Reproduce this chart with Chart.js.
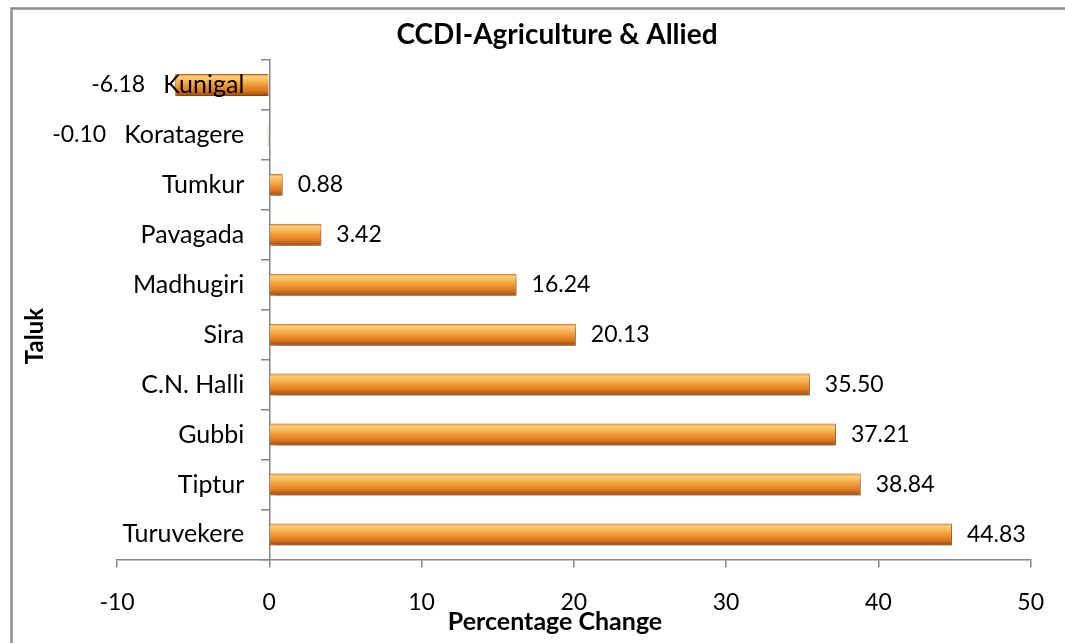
<!DOCTYPE html>
<html>
<head>
<meta charset="utf-8">
<title>CCDI-Agriculture & Allied</title>
<script src="https://cdn.jsdelivr.net/npm/chart.js@4.4.1/dist/chart.umd.min.js"></script>
<style>
  html, body { margin: 0; padding: 0; background: #fff; }
  canvas { display: block; }
</style>
</head>
<body>
<canvas id="chart" width="1065" height="643"></canvas>
<script>
const taluks = ["Kunigal", "Koratagere", "Tumkur", "Pavagada", "Madhugiri", "Sira", "C.N. Halli", "Gubbi", "Tiptur", "Turuvekere"];
const percentChange = [-6.18, -0.10, 0.88, 3.42, 16.24, 20.13, 35.50, 37.21, 38.84, 44.83];
const xTicks = [-10, 0, 10, 20, 30, 40, 50];

const chartTitle = "CCDI-Agriculture & Allied";
const xTitle = "Percentage Change";
const yTitle = "Taluk";

const FONT = "Lato, 'Open Sans', sans-serif";
const AXIS_GREY = "#868686";
const BAR_PCT = 0.44;
const Y_TICK_LEN = 8;
const Y_TICK_PAD = 17;
const CAT_FONT = "25px " + FONT;
const VALUE_FONT = "23px " + FONT;

// vertical gradient per bar, so each one gets its own highlight band
function barFill(ctx) {
    const chart = ctx.chart;
    const y = chart.scales.y;
    if (!chart.chartArea || !y || ctx.dataIndex === undefined) return "#ee9533";
    const mid = y.getPixelForValue(ctx.dataIndex);
    const step = Math.abs(y.getPixelForValue(1) - y.getPixelForValue(0));
    const half = (step * BAR_PCT) / 2;
    const g = chart.ctx.createLinearGradient(0, mid - half, 0, mid + half);
    g.addColorStop(0, "#e57f22");
    g.addColorStop(0.12, "#fccf7a");
    g.addColorStop(0.3, "#f9b956");
    g.addColorStop(0.5, "#f09a36");
    g.addColorStop(0.75, "#dc7a1f");
    g.addColorStop(0.9, "#b25d18");
    g.addColorStop(1, "#874713");
    return g;
}

const decorations = {
    id: "decorations",
    beforeDraw(chart) {
        const ctx = chart.ctx;
        ctx.save();
        ctx.strokeStyle = "#8f8f8f";
        ctx.lineWidth = 2.5;
        ctx.strokeRect(11.5, 8.5, chart.width + 50, chart.height + 50);
        ctx.restore();
    },
    beforeDatasetsDraw(chart) {
        const ctx = chart.ctx;
        ctx.save();
        ctx.shadowColor = "rgba(0,0,0,0.35)";
        ctx.shadowBlur = 6;
        ctx.shadowOffsetX = 2;
        ctx.shadowOffsetY = 4;
    },
    afterDatasetsDraw(chart) {
        const ctx = chart.ctx;
        ctx.restore();

        const meta = chart.getDatasetMeta(0);
        const zeroX = chart.scales.x.getPixelForValue(0);
        const labelRight = zeroX - Y_TICK_LEN - Y_TICK_PAD;
        ctx.save();
        ctx.fillStyle = "#000";
        ctx.textBaseline = "middle";

        // category labels sit beside the zero line, on top of the bars
        ctx.font = CAT_FONT;
        ctx.textAlign = "right";
        taluks.forEach((name, i) => {
            ctx.fillText(name, labelRight, chart.scales.y.getPixelForValue(i));
        });

        // value labels
        meta.data.forEach((bar, i) => {
            const v = percentChange[i];
            const text = v.toFixed(2);
            ctx.font = CAT_FONT;
            const w = ctx.measureText(taluks[i]).width;
            ctx.font = VALUE_FONT;
            if (v >= 0) {
                ctx.textAlign = "left";
                ctx.fillText(text, bar.x + 15, bar.y);
            } else {
                ctx.textAlign = "right";
                ctx.fillText(text, Math.min(bar.x, labelRight - w) - 18, bar.y);
            }
        });
        ctx.restore();
    },
    afterDraw(chart) {
        const ctx = chart.ctx;
        ctx.save();
        ctx.fillStyle = "#000";
        ctx.textAlign = "center";
        ctx.textBaseline = "middle";
        ctx.font = "bold 28px " + FONT;
        ctx.fillText(chartTitle, 557, 35);
        ctx.font = "bold 25px " + FONT;
        ctx.fillText(xTitle, 555, 622);
        ctx.translate(35, 336);
        ctx.rotate(-Math.PI / 2);
        ctx.font = "bold 24px " + FONT;
        ctx.fillText(yTitle, 0, 0);
        ctx.restore();
    }
};

new Chart(document.getElementById("chart"), {
    type: "bar",
    data: {
        labels: taluks,
        datasets: [{
            label: chartTitle,
            data: percentChange,
            backgroundColor: barFill,
            borderColor: "#c4661a",
            borderWidth: 1,
            barPercentage: BAR_PCT,
            categoryPercentage: 1,
        }],
    },
    options: {
        indexAxis: "y",
        responsive: false,
        animation: false,
        layout: { padding: { left: 117, right: 32, top: 60, bottom: 6 } },
        plugins: {
            legend: { display: false },
            tooltip: { enabled: false },
        },
        scales: {
            x: {
                type: "linear",
                min: -10,
                max: 50,
                afterBuildTicks: (axis) => { axis.ticks = xTicks.map((v) => ({ value: v })); },
                grid: { drawOnChartArea: false, tickLength: 8, color: AXIS_GREY, lineWidth: 1.5 },
                border: { color: AXIS_GREY, width: 1.5 },
                ticks: { color: "#000", font: { family: FONT, size: 23 }, padding: 21, maxRotation: 0 },
            },
            y: {
                type: "category",
                position: { x: 0 },
                grid: { drawOnChartArea: false, tickLength: Y_TICK_LEN, color: AXIS_GREY, lineWidth: 1.5 },
                border: { color: AXIS_GREY, width: 1.5 },
                ticks: { display: false },
            },
        },
    },
    plugins: [decorations],
});
</script>
</body>
</html>
